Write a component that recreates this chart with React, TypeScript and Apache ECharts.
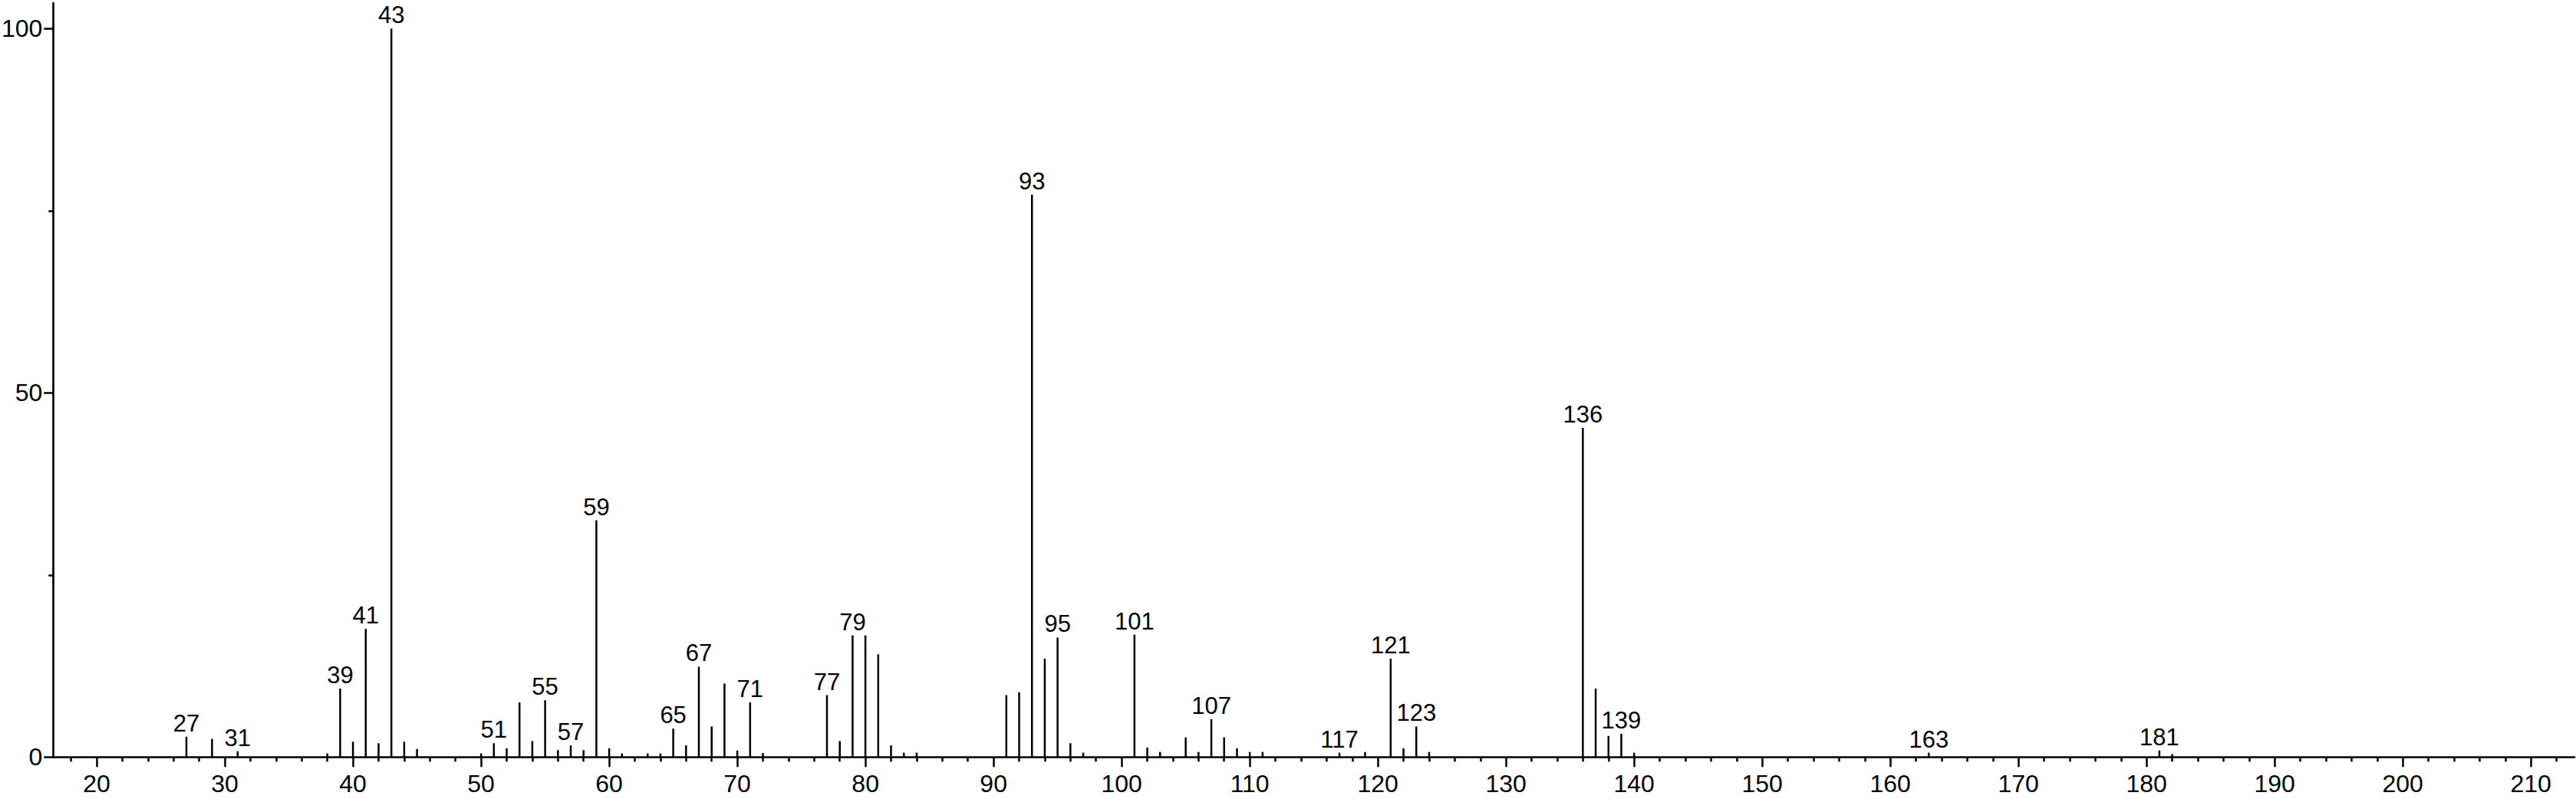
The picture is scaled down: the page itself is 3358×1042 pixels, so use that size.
import React, { useEffect, useRef } from "react";
import * as echarts from "echarts";

const mzValues = [27, 29, 31, 38, 39, 40, 41, 42, 43, 44, 45, 50, 51, 52, 53, 54, 55, 56, 57, 58, 59, 60, 61, 63, 64, 65, 66, 67, 68, 69, 70, 71, 72, 77, 78, 79, 80, 81, 82, 83, 84, 91, 92, 93, 94, 95, 96, 97, 101, 102, 103, 105, 106, 107, 108, 109, 110, 111, 117, 119, 121, 122, 123, 124, 136, 137, 138, 139, 140, 163, 181, 182];
const intensities = [2.8, 2.5, 0.8, 0.5, 9.4, 2.1, 17.6, 1.9, 100, 2.1, 1.1, 0.5, 1.9, 1.2, 7.5, 2.2, 7.8, 0.95, 1.6, 0.95, 32.5, 1.2, 0.5, 0.5, 0.5, 3.9, 1.6, 12.4, 4.2, 10.1, 0.9, 7.5, 0.55, 8.5, 2.2, 16.7, 16.7, 14.1, 1.6, 0.6, 0.6, 8.5, 8.9, 77.2, 13.5, 16.4, 1.9, 0.6, 16.8, 1.3, 0.7, 2.7, 0.7, 5.2, 2.7, 1.2, 0.7, 0.7, 0.6, 0.7, 13.5, 1.2, 4.2, 0.7, 45.2, 9.4, 2.9, 3.2, 0.6, 0.6, 0.9, 0.4];
const labeledPeaks = [27, 31, 39, 41, 43, 51, 55, 57, 59, 65, 67, 71, 77, 79, 93, 95, 101, 107, 117, 121, 123, 136, 139, 163, 181];
const xTickLabels = [20, 30, 40, 50, 60, 70, 80, 90, 100, 110, 120, 130, 140, 150, 160, 170, 180, 190, 200, 210];
const yTickLabels = [0, 50, 100];
const yMinorTicks = [25, 75];

const X_MIN = 16.6;
const X_MAX = 213.4;
const Y_MAX = 103.5;

export default function App() {
  const ref = useRef<HTMLDivElement>(null);
  useEffect(() => {
    if (!ref.current) return;
    const chart = echarts.init(ref.current, null, { renderer: "svg" });
    const xMinorTicks: number[] = [];
    for (let v = 18; v <= 212; v += 2) if (v % 10 !== 0) xMinorTicks.push(v);
    const font = '"Liberation Sans", Arial, Helvetica, sans-serif';
    const data = mzValues.map((m, i) => ({
      value: [m, intensities[i]],
      label: { show: labeledPeaks.includes(m) },
    }));
    chart.setOption({
      animation: false,
      backgroundColor: "#fff",
      grid: { left: 69.3, right: 2, top: 4, bottom: 54.7, containLabel: false, outerBoundsMode: "none" },
      xAxis: [
        {
          type: "value",
          min: X_MIN,
          max: X_MAX,
          axisLine: { show: true, onZero: false, lineStyle: { color: "#000", width: 2.7 } },
          axisTick: { show: true, customValues: xTickLabels, length: 13, lineStyle: { color: "#000", width: 2.5 } },
          axisLabel: { show: true, customValues: xTickLabels, margin: 19, color: "#000", fontSize: 32, fontFamily: font },
          splitLine: { show: false },
        },
        {
          type: "value",
          min: X_MIN,
          max: X_MAX,
          position: "bottom",
          axisLine: { show: false },
          axisTick: { show: true, customValues: xMinorTicks, length: 6, lineStyle: { color: "#000", width: 2.5 } },
          axisLabel: { show: false },
          splitLine: { show: false },
        },
      ],
      yAxis: [
        {
          type: "value",
          min: 0,
          max: Y_MAX,
          position: "left",
          axisLine: { show: true, onZero: false, lineStyle: { color: "#000", width: 2.7 } },
          axisTick: { show: true, customValues: yTickLabels, length: 12, lineStyle: { color: "#000", width: 2.5 } },
          axisLabel: { show: true, customValues: yTickLabels, margin: 14, color: "#000", fontSize: 32, fontFamily: font },
          splitLine: { show: false },
        },
        {
          type: "value",
          min: 0,
          max: Y_MAX,
          position: "left",
          axisLine: { show: false },
          axisTick: { show: true, customValues: yMinorTicks, length: 6, lineStyle: { color: "#000", width: 2.5 } },
          axisLabel: { show: false },
          splitLine: { show: false },
        },
      ],
      series: [
        {
          type: "bar",
          xAxisIndex: 0,
          yAxisIndex: 0,
          barWidth: 2.5,
          itemStyle: { color: "#000" },
          label: {
            show: false,
            position: "top",
            distance: 2,
            color: "#000",
            fontSize: 31,
            fontFamily: font,
            formatter: (p: any) => String(p.value[0]),
          },
          data,
        },
      ],
    });
    return () => chart.dispose();
  }, []);
  return <div ref={ref} style={{ position: "fixed", left: 0, top: 0, width: 3358, height: 1042 }} />;
}
